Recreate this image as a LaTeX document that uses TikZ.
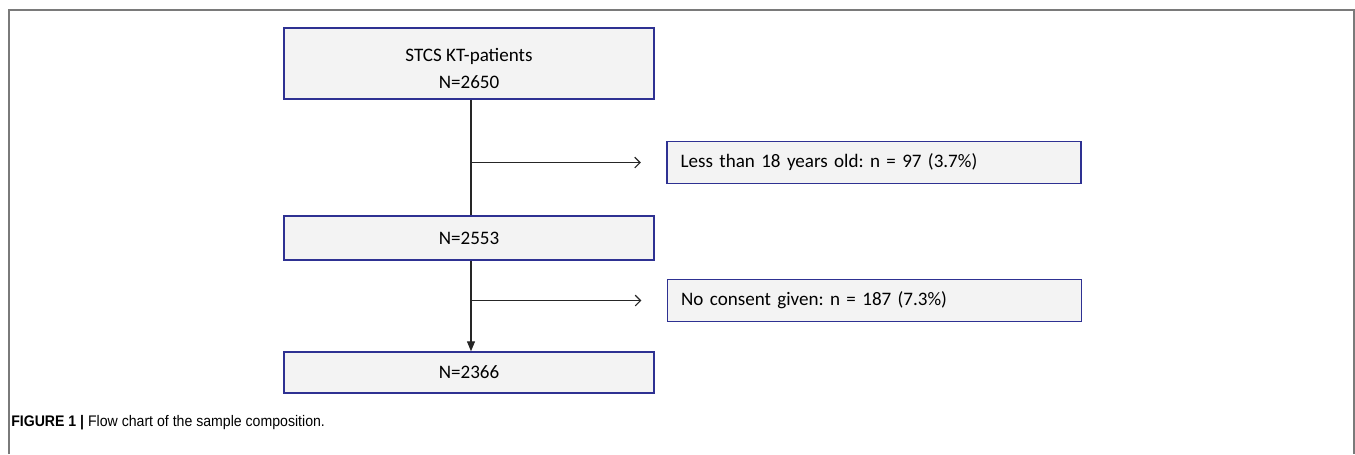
\documentclass[tikz,border=0pt]{standalone}
\usepackage{fontspec}
\setmainfont{Carlito}
\newfontfamily\captionfont[FakeStretch=0.92]{Liberation Sans}
\usetikzlibrary{arrows.meta,positioning}

\definecolor{boxblue}{HTML}{2E3192}
\definecolor{boxgray}{HTML}{F3F3F3}
\definecolor{framegray}{HTML}{7A7A7A}

\begin{document}
\frenchspacing
\begin{tikzpicture}[
      x=0.75pt,y=-0.75pt,
      mybox/.style={
         rectangle,
         draw=boxblue,
         fill=boxgray,
         line width=1.1pt,
         inner sep=0pt,
         minimum width=277.5pt,
         font=\fontsize{14.3}{20}\selectfont},
      mysidebox/.style={
         mybox,
         minimum width=310.5pt,
         minimum height=31.5pt,
         text width=290pt,
         align=left},
      myline/.style={line width=0.9pt, draw=black!85},
      myarrow/.style={myline, -{Triangle[length=7.5pt,width=6pt]}},
      mysidearrow/.style={myline, -{Straight Barb[length=4pt,width=8pt]}, shorten >=19pt}
      ]
      \useasboundingbox (0,0) rectangle (1355,454);
      % outer frame
      \draw[framegray, line width=0.8pt] (9,454) -- (9,10) -- (1354,10) -- (1354,454);
      \node[mybox, minimum height=53.25pt, align=center] (kt) at (469,63.5) {\rule{0pt}{17pt}STCS KT-patients\\N=2650};
      \node[mybox, minimum height=33pt] (n2553) at (469,238) {N=2553};
      \node[mybox, minimum height=30.75pt] (n2366) at (469,372.5) {N=2366};
      \node[mysidebox] (age) at (874,162.5) {Less than 18 years old: n = 97 (3.7\%)};
      \node[mysidebox] (consent) at (874.5,300.5) {No consent given: n = 187 (7.3\%)};
      \node[anchor=base west, inner sep=0pt, font=\captionfont\fontsize{11.5}{13}\selectfont] (caption)
         at (11,426) {\textbf{FIGURE 1 |} Flow chart of the sample composition.};
      \draw[myline] ([xshift=1.5pt]kt.south) -- ([xshift=1.5pt]n2553.north);
      \draw[myarrow] ([xshift=1.5pt]n2553.south) -- ([xshift=1.5pt]n2366.north);
    \foreach \i/\j in {
      kt/age,
      n2553/consent}
       \draw[mysidearrow] ([xshift=1.5pt]\i.south |- \j.west) -- (\j.west);
\end{tikzpicture}
\end{document}
